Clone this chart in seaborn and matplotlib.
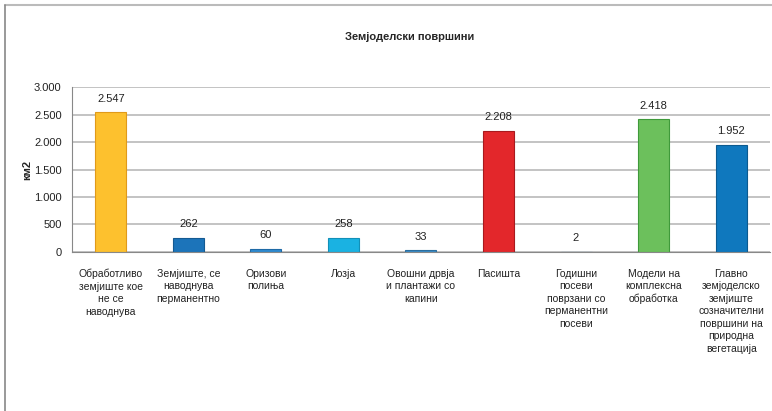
import matplotlib
matplotlib.use('Agg')
import matplotlib.pyplot as plt
import seaborn as sns
import pandas as pd
import numpy as np
from matplotlib.ticker import FuncFormatter, FixedLocator

categories = [
    'Обработливо\nземјиште кое\nне се\nнаводнува',
    'Земјиште, се\nнаводнува\nперманентно',
    'Оризови\nполиња',
    'Лозја',
    'Овошни дрвја\nи плантажи со\nкапини',
    'Пасишта',
    'Годишни\nпосеви\nповрзани со\nперманентни\nпосеви',
    'Модели на\nкомплексна\nобработка',
    'Главно\nземјоделско\nземјиште\nсозначителни\nповршини на\nприродна\nвегетација',
]
values = [2547, 262, 60, 258, 33, 2208, 2, 2418, 1952]
bar_colors = ['#FDC12E', '#1C74BA', '#2E8AD0', '#1AB2E2', '#3A8CC8',
              '#E3272B', '#2E8AD0', '#6CC05C', '#0F78BE']
edge_colors = ['#E09A1A', '#145A92', '#1F6AA6', '#1290B8', '#2A6EA0',
               '#A81A1E', '#1F6AA6', '#3F9A3A', '#0B5A90']

sns.set_style('white')
plt.rcParams['font.family'] = ['Liberation Sans', 'DejaVu Sans']

df = pd.DataFrame({'cat': categories, 'val': values})

fig = plt.figure(figsize=(7.72, 4.11), dpi=100)
ax = fig.add_axes([0.0933, 0.387, 0.904, 0.401])

sns.barplot(data=df, x='cat', y='val', hue='cat', palette=bar_colors,
            legend=False, width=0.4, ax=ax, saturation=1)
for patch, ec in zip(ax.patches, edge_colors):
    patch.set_edgecolor(ec)
    patch.set_linewidth(0.8)

# value labels above the bars
for i, v in enumerate(values):
    ax.annotate(f'{v:,}'.replace(',', '.'), (i, v), xytext=(0, 6),
                textcoords='offset points', ha='center', va='bottom',
                fontsize=8, color='#222222')

ax.set_ylim(0, 3000)
ax.set_xlim(-0.5, len(values) - 0.5)
ax.set_yticks(np.arange(0, 3001, 500))
ax.yaxis.set_major_formatter(FuncFormatter(lambda x, p: f'{int(x):,}'.replace(',', '.')))
ax.grid(axis='y', color='#BEBEBE', linewidth=1.3)
ax.set_axisbelow(True)

ax.set_xticks(range(len(values)))
ax.set_xticklabels(categories, fontsize=7.5, color='#222222', linespacing=1.32)
ax.tick_params(axis='x', which='major', length=0, pad=12)
ax.xaxis.set_minor_locator(FixedLocator(np.arange(-0.5, len(values), 1.0)))
ax.tick_params(axis='x', which='minor', length=5, color='#888888', width=0.8)
ax.tick_params(axis='y', length=4, color='#888888', labelsize=8, labelcolor='#222222')

for s in ['top', 'right']:
    ax.spines[s].set_visible(False)
ax.spines['left'].set_color('#888888')
ax.spines['bottom'].set_color('#888888')

ax.set_xlabel('')
ax.set_ylabel('км2', fontsize=8, fontweight='bold')
ax.yaxis.set_label_coords(-0.057, 0.5)
fig.text(0.531, 0.91, 'Земјоделски површини', ha='center', va='center',
         fontsize=8, fontweight='bold')

# outer frame lines (top and left)
fig.add_artist(plt.Line2D([0.0065, 1.0], [0.988, 0.988], color='#BBBBBB', linewidth=1.5))
fig.add_artist(plt.Line2D([0.0065, 0.0065], [0.0, 0.988], color='#888888', linewidth=1.2))

fig.savefig('out.png', dpi=100)
